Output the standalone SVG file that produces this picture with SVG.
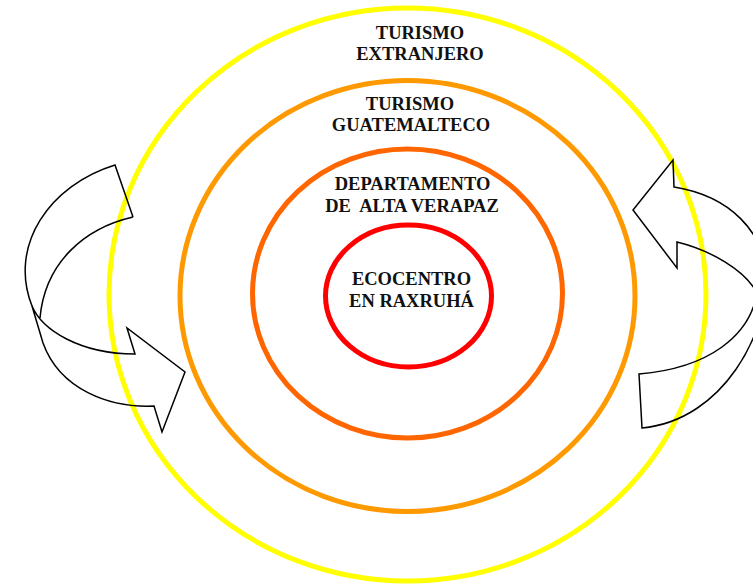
<svg xmlns="http://www.w3.org/2000/svg" width="753" height="586" viewBox="0 0 753 586">
<style>
.ring{fill:none;stroke-width:5}
.lbl{font-family:"Liberation Serif","Times New Roman",serif;font-weight:bold;font-size:18.5px;fill:#111;text-anchor:middle;white-space:pre}
.arrow{fill:none;stroke:#000;stroke-width:1.5;stroke-linejoin:miter}
</style>
<rect width="753" height="586" fill="#fff"/>
<g id="ring-extranjero">
<ellipse class="ring" cx="407.5" cy="294.5" rx="298.5" ry="286.5" stroke="#FFFF00"/>
<text class="lbl" x="420" y="39">TURISMO</text>
<text class="lbl" x="420" y="60">EXTRANJERO</text>
</g>
<g id="ring-guatemalteco">
<ellipse class="ring" cx="407.5" cy="296" rx="227.5" ry="215.5" stroke="#FF9900"/>
<text class="lbl" x="410" y="110">TURISMO</text>
<text class="lbl" x="411" y="131">GUATEMALTECO</text>
</g>
<g id="ring-departamento">
<ellipse class="ring" cx="407.5" cy="293.5" rx="155" ry="144.5" stroke="#FF6600"/>
<text class="lbl" x="412.5" y="190">DEPARTAMENTO</text>
<text class="lbl" x="412" y="212">DE  ALTA VERAPAZ</text>
</g>
<g id="ring-ecocentro">
<ellipse class="ring" cx="408.5" cy="296" rx="83" ry="71" stroke="#FF0000"/>
<text class="lbl" x="411.5" y="285">ECOCENTRO</text>
<text class="lbl" x="411.5" y="307">EN RAXRUHÁ</text>
</g>
<g id="connectors">
<path class="arrow" d="M133,217 L115,165 C50,185 8,245 32,306 C42,330 80,354 135,354 L127,328 L185,372 L162,432 L154,406 C110,408 60,390 43,343 L32,306 M133,217 C85,228 45,262 40,318"/>
<path class="arrow" d="M673,160 L674,187 C730,196 765,232 766,278 C768,330 725,420 642,428 L639,374 C710,368 750,335 757,293 C745,270 710,250 677,242 L677,268 L633,210 Z"/>
</g>
</svg>
